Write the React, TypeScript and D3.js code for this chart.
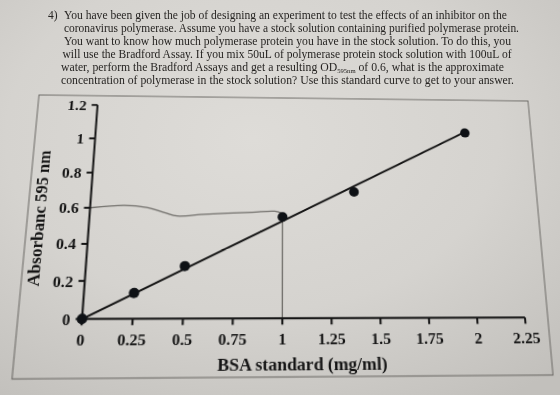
import React from 'react';
import * as d3 from 'd3';

// ---------- content / data ----------
const questionNumber = '4)';
const questionLines = [
  'You have been given the job of designing an experiment to test the effects of an inhibitor on the',
  'coronavirus polymerase. Assume you have a stock solution containing purified polymerase protein.',
  'You want to know how much polymerase protein you have in the stock solution. To do this, you',
  'will use the Bradford Assay. If you mix 50uL of polymerase protein stock solution with 100uL of',
  'water, perform the Bradford Assays and get a resulting OD{595nm} of 0.6, what is the approximate',
  'concentration of polymerase in the stock solution? Use this standard curve to get to your answer.',
];

const xTickValues = [0, 0.25, 0.5, 0.75, 1, 1.25, 1.5, 1.75, 2, 2.25];
const xTickLabels = ['0', '0.25', '0.5', '0.75', '1', '1.25', '1.5', '1.75', '2', '2.25'];
const yTickValues = [0, 0.2, 0.4, 0.6, 0.8, 1, 1.2];
const yTickLabels = ['0', '0.2', '0.4', '0.6', '0.8', '1', '1.2'];

const xTitle = 'BSA standard (mg/ml)';
const yTitle = 'Absorbanc 595 nm';

// standard curve points
const bsaConc = [0, 0.25, 0.5, 1.0, 1.38, 2.0];
const absorbance = [0, 0.136, 0.28, 0.553, 0.698, 1.054];

// fitted line
const trendX = [0, 2.0];
const trendY = [0, 1.06];

// hand-drawn guide (OD 0.6 across, then down)
const guideX = [0, 0.175, 0.29, 0.39, 0.45, 0.59, 0.84, 0.96, 1.0];
const guideY = [0.6, 0.615, 0.604, 0.573, 0.556, 0.566, 0.579, 0.585, 0.572];
const dropX = [1.0, 1.0];
const dropY = [0.572, 0];

// ---------- layout ----------
const W = 560;
const H = 395;
const FX = 25, FY = 95, FW = 515, FH = 282; // flat frame
const QUAD: [number, number][] = [[39, 95], [528, 101], [553, 375], [12, 379]]; // photographed frame corners
const lineStarts = [64, 64, 64, 62.5, 61, 61];
const lineWidths = [443, 455, 447, 449, 443, 453];

function squareToQuad(p: [number, number][]) {
  const [[x0, y0], [x1, y1], [x2, y2], [x3, y3]] = p;
  const dx1 = x1 - x2, dx2 = x3 - x2, dx3 = x0 - x1 + x2 - x3;
  const dy1 = y1 - y2, dy2 = y3 - y2, dy3 = y0 - y1 + y2 - y3;
  const det = dx1 * dy2 - dx2 * dy1;
  const g = (dx3 * dy2 - dx2 * dy3) / det;
  const h = (dx1 * dy3 - dx3 * dy1) / det;
  const a = x1 - x0 + g * x1;
  const b = x3 - x0 + h * x3;
  const c = x0;
  const d = y1 - y0 + g * y1;
  const e = y3 - y0 + h * y3;
  const f = y0;
  return { a, b, c, d, e, f, g, h };
}

function perspectiveCSS() {
  const { a, b, c, d, e, f, g, h } = squareToQuad(QUAD);
  const m00 = a / FW, m01 = b / FH, m02 = c - (a * FX) / FW - (b * FY) / FH;
  const m10 = d / FW, m11 = e / FH, m12 = f - (d * FX) / FW - (e * FY) / FH;
  const m20 = g / FW, m21 = h / FH, m22 = 1 - (g * FX) / FW - (h * FY) / FH;
  return `matrix3d(${m00},${m10},0,${m20},${m01},${m11},0,${m21},0,0,1,0,${m02},${m12},0,${m22})`;
}

const serif = "'Liberation Serif', 'Times New Roman', serif";

export default function App() {
  const x = d3.scaleLinear().domain([0, 2.25]).range([85.5, 517.1]);
  const y = d3.scaleLinear().domain([0, 1.2]).range([322.3, 105.2]);

  const pts = bsaConc.map((v, i) => [v, absorbance[i]] as [number, number]);
  const linePath = d3.line<[number, number]>().x((d) => x(d[0])).y((d) => y(d[1]));
  const curvePath = d3
    .line<[number, number]>()
    .x((d) => x(d[0]))
    .y((d) => y(d[1]))
    .curve(d3.curveCatmullRom.alpha(0.5));

  const trend = trendX.map((v, i) => [v, trendY[i]] as [number, number]);
  const guide = guideX.map((v, i) => [v, guideY[i]] as [number, number]);
  const drop = dropX.map((v, i) => [v, dropY[i]] as [number, number]);

  const x0 = x(0);
  const y0 = y(0);
  const ink = '#141414';

  return (
    <div style={{ position: 'fixed', left: 0, top: 0, width: W, height: H, overflow: 'hidden' }}>
      <svg width={W} height={H} style={{ position: 'absolute', left: 0, top: 0 }}>
        <defs>
          <radialGradient id="paper" cx="45%" cy="35%" r="80%">
            <stop offset="0%" stopColor="#dedcd8" />
            <stop offset="55%" stopColor="#d5d3cf" />
            <stop offset="100%" stopColor="#c2c0bc" />
          </radialGradient>
        </defs>
        <rect x={0} y={0} width={W} height={H} fill="url(#paper)" />
        <g fontFamily={serif} fontSize={11.5} fill="#262422">
          <text x={48} y={18.5}>{questionNumber}</text>
          {questionLines.map((ln, i) => {
            const parts = ln.split(/\{|\}/);
            return (
              <text
                key={i}
                x={lineStarts[i]}
                y={18.5 + i * 13}
                textLength={lineWidths[i]}
                lengthAdjust="spacingAndGlyphs"
              >
                {parts.length === 3 ? (
                  <>
                    {parts[0]}
                    <tspan fontSize={6.5} dy={2}>{parts[1]}</tspan>
                    <tspan dy={-2}>{parts[2]}</tspan>
                  </>
                ) : (
                  ln
                )}
              </text>
            );
          })}
        </g>
      </svg>

      <svg
        width={W}
        height={H}
        style={{
          position: 'absolute',
          left: 0,
          top: 0,
          overflow: 'visible',
          transformOrigin: '0 0',
          transform: perspectiveCSS(),
        }}
      >
        {/* frame */}
        <rect x={FX} y={FY} width={FW} height={FH} fill="none" stroke="#6b6965" strokeWidth={1} />

        {/* hand-drawn guide */}
        <path d={curvePath(guide) || ''} fill="none" stroke="#6f6d69" strokeWidth={1.3} />
        <path d={linePath(drop) || ''} fill="none" stroke="#6f6d69" strokeWidth={1.3} />

        {/* axes */}
        <line x1={x0} x2={x0} y1={y0} y2={y(1.2)} stroke={ink} strokeWidth={2} />
        <line x1={x0} x2={x(2.25)} y1={y0} y2={y0} stroke={ink} strokeWidth={2} />
        {yTickValues.map((v) => (
          <line key={'yt' + v} x1={x0 - 6} x2={x0} y1={y(v)} y2={y(v)} stroke={ink} strokeWidth={2} />
        ))}
        {xTickValues.map((v) => (
          <line key={'xt' + v} x1={x(v)} x2={x(v)} y1={y0} y2={y0 + 6} stroke={ink} strokeWidth={2} />
        ))}

        <g fontFamily={serif} fontWeight="bold" fontSize={15.5} fill={ink}>
          {yTickValues.map((v, i) => (
            <text key={'yl' + v} x={x0 - 11} y={y(v)} dy="0.35em" textAnchor="end">
              {yTickLabels[i]}
            </text>
          ))}
          {xTickValues.map((v, i) => (
            <text key={'xl' + v} x={x(v)} y={y0 + 25} textAnchor="middle">
              {xTickLabels[i]}
            </text>
          ))}
        </g>

        <text
          x={297}
          y={371.5}
          textAnchor="middle"
          fontFamily={serif}
          fontWeight="bold"
          fontSize={17}
          fill={ink}
        >
          {xTitle}
        </text>
        <text
          transform="translate(42,223) rotate(-90)"
          textAnchor="middle"
          fontFamily={serif}
          fontWeight="bold"
          fontSize={17}
          fill={ink}
        >
          {yTitle}
        </text>

        {/* trend line */}
        <path d={linePath(trend) || ''} fill="none" stroke={ink} strokeWidth={2} />

        {/* points */}
        {pts.map((p, i) => (
          <circle key={i} cx={x(p[0])} cy={y(p[1])} r={5} fill="#0e1115" />
        ))}
      </svg>
    </div>
  );
}
